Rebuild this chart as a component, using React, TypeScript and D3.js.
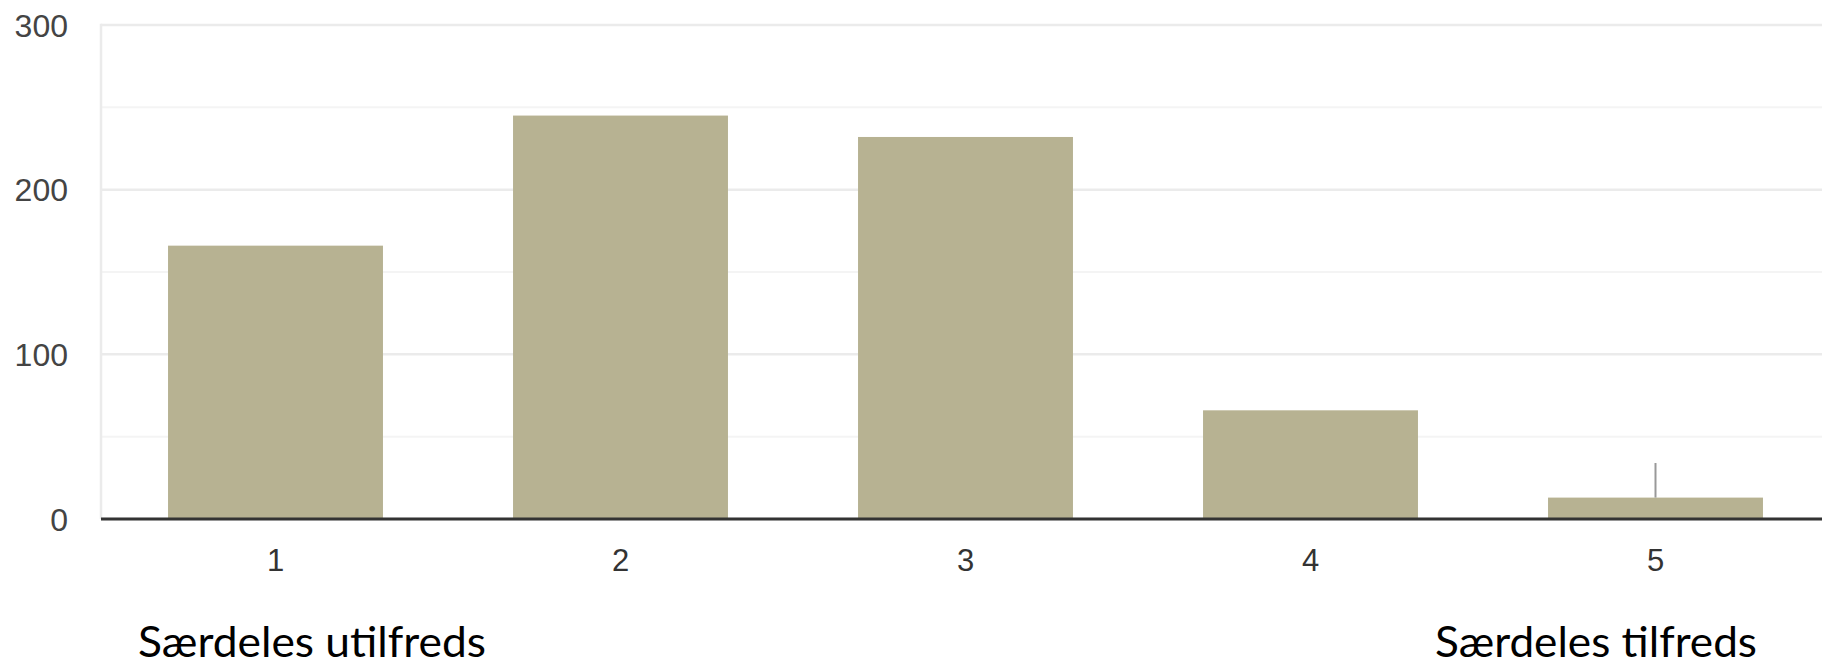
import React from "react";
import * as d3 from "d3";

const categories: string[] = ["1", "2", "3", "4", "5"];
const counts: number[] = [166, 245, 232, 66, 13];
const markerCategory = "5";
const markerTop = 34;
const yTicks: number[] = [0, 100, 200, 300];
const yMinorTicks: number[] = [50, 150, 250];
const lowLabel = "Særdeles utilfreds";
const highLabel = "Særdeles tilfreds";

const W = 1822;
const H = 665;

export default function App() {
  const x = d3
    .scaleBand<string>()
    .domain(categories)
    .range([103, 1828])
    .paddingInner(0.377)
    .paddingOuter(0.1885);
  const y = d3.scaleLinear().domain([0, 300]).range([519, 25]);
  const plotLeft = 101;
  const axisFont = "'Liberation Sans', Arial, sans-serif";

  return (
    <svg
      width={W}
      height={H}
      style={{ position: "absolute", left: 0, top: 0, display: "block", background: "#fff" }}
    >
      {yMinorTicks.map((t) => (
        <line key={"m" + t} x1={plotLeft} x2={W} y1={y(t)} y2={y(t)} stroke="#f4f4f4" strokeWidth={2} />
      ))}
      {yTicks.map((t) => (
        <line key={"g" + t} x1={plotLeft} x2={W} y1={y(t)} y2={y(t)} stroke="#ebebeb" strokeWidth={2.5} />
      ))}
      <line x1={plotLeft} x2={plotLeft} y1={y(300) - 1.2} y2={y(0)} stroke="#ebebeb" strokeWidth={2.5} />
      {yTicks.map((t) => (
        <text
          key={"l" + t}
          x={68}
          y={y(t)}
          dy="0.36em"
          textAnchor="end"
          fontFamily={axisFont}
          fontSize={32}
          fill="#444"
        >
          {t}
        </text>
      ))}
      {categories.map((c, i) => (
        <rect
          key={"b" + c}
          x={x(c)!}
          y={y(counts[i])}
          width={x.bandwidth()}
          height={y(0) - y(counts[i])}
          fill="#b7b292"
        />
      ))}
      <line
        x1={x(markerCategory)! + x.bandwidth() / 2}
        x2={x(markerCategory)! + x.bandwidth() / 2}
        y1={y(markerTop)}
        y2={y(counts[categories.indexOf(markerCategory)])}
        stroke="#999"
        strokeWidth={2}
      />
      <line x1={plotLeft} x2={W} y1={y(0)} y2={y(0)} stroke="#333" strokeWidth={3} />
      {categories.map((c) => (
        <text
          key={"x" + c}
          x={x(c)! + x.bandwidth() / 2}
          y={571}
          textAnchor="middle"
          fontFamily={axisFont}
          fontSize={31}
          fill="#333"
        >
          {c}
        </text>
      ))}
      <text
        x={138}
        y={657}
        fontFamily="Lato, 'Open Sans', sans-serif"
        fontSize={42}
        fill="#000"
        textLength={348}
        lengthAdjust="spacingAndGlyphs"
      >
        {lowLabel}
      </text>
      <text
        x={1435}
        y={657}
        fontFamily="Lato, 'Open Sans', sans-serif"
        fontSize={42}
        fill="#000"
        textLength={322}
        lengthAdjust="spacingAndGlyphs"
      >
        {highLabel}
      </text>
    </svg>
  );
}
